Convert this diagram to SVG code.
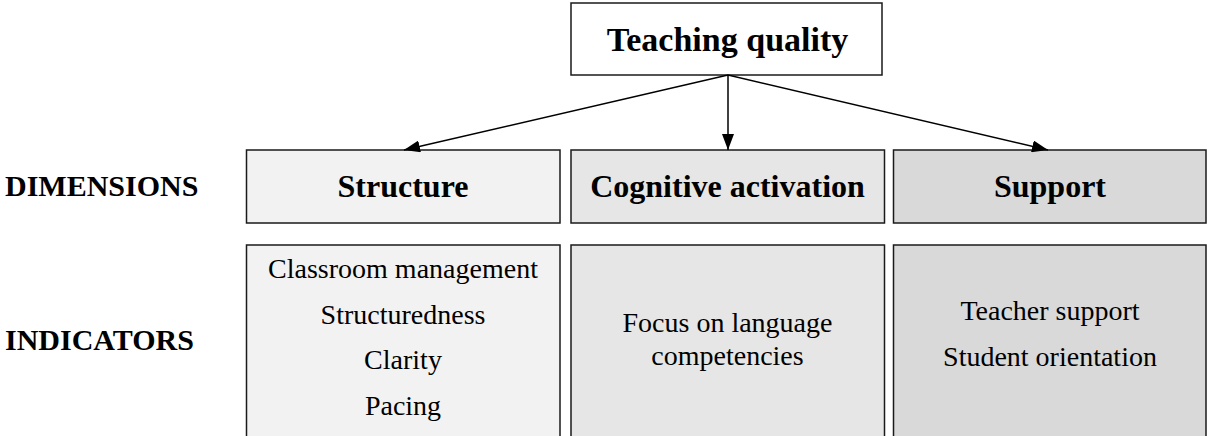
<svg xmlns="http://www.w3.org/2000/svg" width="1207" height="436" viewBox="0 0 1207 436">
<style>
  .box { stroke: #1a1a1a; stroke-width: 1.5; }
  .t-bold { font-family: "Liberation Serif", "Times New Roman", serif; font-weight: bold; fill: #000; text-anchor: middle; }
  .t-reg { font-family: "Liberation Serif", "Times New Roman", serif; fill: #000; text-anchor: middle; font-size: 28px; }
  .lbl { font-family: "Liberation Serif", "Times New Roman", serif; font-weight: bold; fill: #000; font-size: 30px; }
  .conn { stroke: #000; stroke-width: 1.5; fill: none; marker-end: url(#arr); }
</style>
<defs>
  <marker id="arr" viewBox="0 0 16 12" refX="16" refY="6" markerWidth="16" markerHeight="12" markerUnits="userSpaceOnUse" orient="auto">
    <path d="M0,0 L16,6 L0,12 z" fill="#000"/>
  </marker>
</defs>
<rect width="1207" height="436" fill="#fff"/>
<g id="label-dimensions"><text class="lbl" x="5" y="196">DIMENSIONS</text></g>
<g id="label-indicators"><text class="lbl" x="5" y="350">INDICATORS</text></g>
<g id="teaching-quality">
  <rect class="box" x="571" y="3" width="311" height="72" fill="#fff"/>
  <text class="t-bold" x="727.5" y="51" font-size="34">Teaching quality</text>
</g>
<g id="dim-structure">
  <rect class="box" x="246.5" y="150" width="313.5" height="73" fill="#f2f2f2"/>
  <text class="t-bold" x="403" y="197" font-size="32">Structure</text>
</g>
<g id="dim-cognitive">
  <rect class="box" x="571" y="150" width="313.5" height="73" fill="#e6e6e6"/>
  <text class="t-bold" x="727.5" y="197" font-size="32">Cognitive activation</text>
</g>
<g id="dim-support">
  <rect class="box" x="893.5" y="150" width="312.5" height="73" fill="#d9d9d9"/>
  <text class="t-bold" x="1050" y="197" font-size="32">Support</text>
</g>
<g id="ind-structure">
  <rect class="box" x="246.5" y="245" width="313.5" height="200" fill="#f2f2f2"/>
  <text class="t-reg" x="403" y="278">Classroom management</text>
  <text class="t-reg" x="403" y="324">Structuredness</text>
  <text class="t-reg" x="403" y="369">Clarity</text>
  <text class="t-reg" x="403" y="415">Pacing</text>
</g>
<g id="ind-cognitive">
  <rect class="box" x="571" y="245" width="313.5" height="200" fill="#e6e6e6"/>
  <text class="t-reg" x="727.5" y="332">Focus on language</text>
  <text class="t-reg" x="727.5" y="365">competencies</text>
</g>
<g id="ind-support">
  <rect class="box" x="893.5" y="245" width="312.5" height="200" fill="#d9d9d9"/>
  <text class="t-reg" x="1050" y="320">Teacher support</text>
  <text class="t-reg" x="1050" y="366">Student orientation</text>
</g>
<g id="connectors">
  <line class="conn" x1="728" y1="75" x2="404" y2="150"/>
  <line class="conn" x1="728" y1="75" x2="728" y2="150"/>
  <line class="conn" x1="728" y1="75" x2="1048" y2="150"/>
</g>
</svg>
